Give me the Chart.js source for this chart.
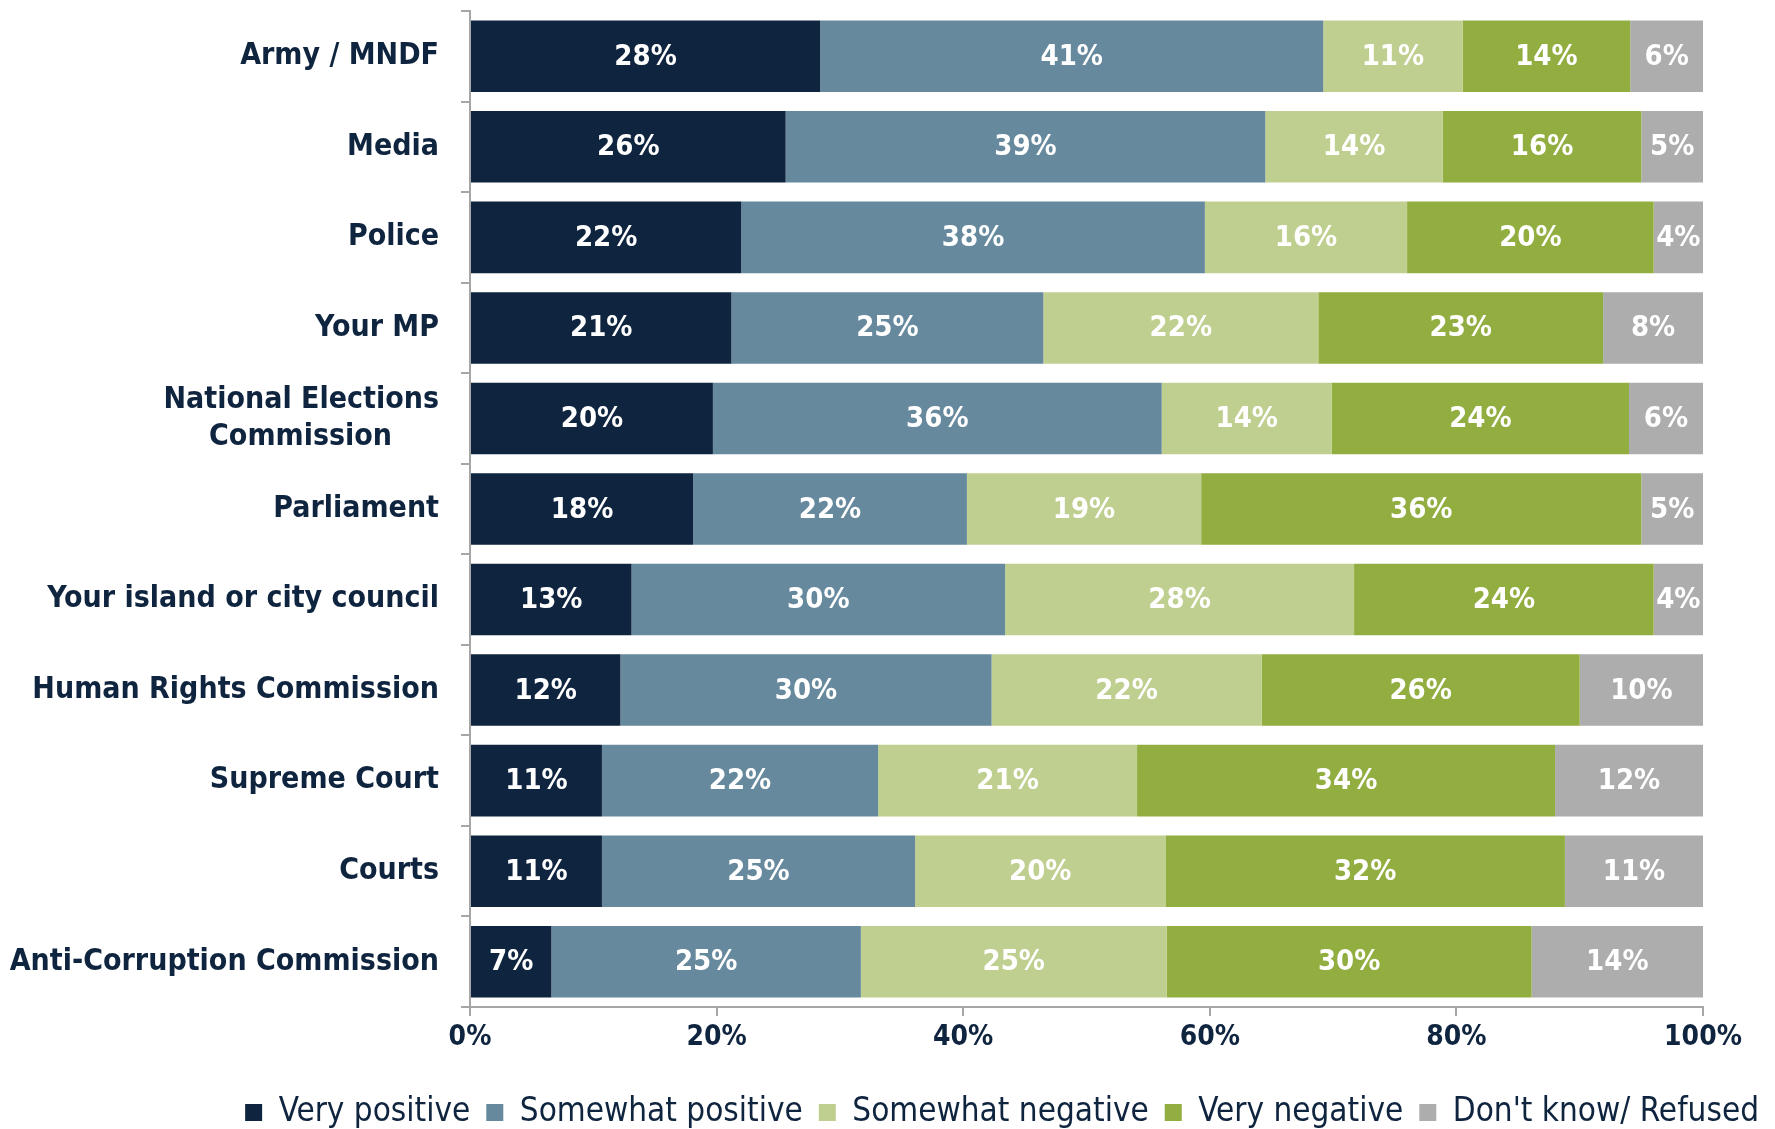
<!DOCTYPE html>
<html>
<head>
<meta charset="utf-8">
<script src="https://cdn.jsdelivr.net/npm/chart.js@4/dist/chart.umd.min.js"></script>
<style>
  body { margin: 0; background: #ffffff; }
  #wrap { width: 1775px; height: 1129px; position: relative; }
</style>
</head>
<body>
<div id="wrap"><canvas id="chart1"></canvas></div>
<script>
// categories (top to bottom)
var categories = [
  "Army / MNDF",
  "Media",
  "Police",
  "Your MP",
  ["National Elections", "Commission\u00a0\u00a0\u00a0\u00a0\u00a0"],
  "Parliament",
  "Your island or city council",
  "Human Rights Commission",
  "Supreme Court",
  "Courts",
  "Anti-Corruption Commission"
];

// series values (percent)
var veryPositive     = [28.4, 25.6, 22.0, 21.2, 19.7, 18.1, 13.1, 12.2, 10.7, 10.7, 6.6];
var somewhatPositive = [40.8, 38.9, 37.6, 25.3, 36.4, 22.2, 30.3, 30.1, 22.4, 25.4, 25.1];
var somewhatNegative = [11.3, 14.4, 16.4, 22.3, 13.8, 19.0, 28.3, 21.9, 21.0, 20.3, 24.8];
var veryNegative     = [13.6, 16.1, 20.0, 23.1, 24.1, 35.7, 24.3, 25.8, 33.9, 32.4, 29.6];
var dontKnow         = [5.9, 5.0, 4.0, 8.1, 6.0, 5.0, 4.0, 10.0, 12.0, 11.2, 13.9];

// x axis ticks
var xTicks = [0, 20, 40, 60, 80, 100];

var navy = "#0f243e";
var axisGrey = "#a6a6a6";
var fontFam = '"DejaVu Sans Condensed", "DejaVu Sans", sans-serif';

Chart.defaults.font.family = fontFam;
Chart.defaults.color = navy;

// draw the % labels in the middle of every segment
var labelPlugin = {
  id: "segLabels",
  afterDatasetsDraw: function(chart) {
    var ctx = chart.ctx;
    ctx.save();
    ctx.fillStyle = "#ffffff";
    ctx.font = "bold 29px " + fontFam;
    ctx.textAlign = "center";
    ctx.textBaseline = "middle";
    chart.data.datasets.forEach(function(ds, i) {
      var meta = chart.getDatasetMeta(i);
      meta.data.forEach(function(bar, j) {
        var v = ds.data[j];
        var cx = (bar.x + bar.base) / 2;
        ctx.fillText(Math.round(v) + "%", cx, bar.y + 1);
      });
    });
    ctx.restore();
  }
};

var canvas1 = document.getElementById("chart1");

const myChart = new Chart(canvas1, {
  type: "bar",
  data: {
    labels: categories,
    datasets: [
      { label: "Very positive", data: veryPositive, backgroundColor: "#0f243e" },
      { label: "Somewhat positive", data: somewhatPositive, backgroundColor: "#66899d" },
      { label: "Somewhat negative", data: somewhatNegative, backgroundColor: "#bfcf8f" },
      { label: "Very negative", data: veryNegative, backgroundColor: "#92ae40" },
      { label: "Don't know/ Refused", data: dontKnow, backgroundColor: "#adadae" }
    ]
  },
  options: {
    indexAxis: "y",
    responsive: true,
    maintainAspectRatio: false,
    animation: false,
    barPercentage: 0.79,
    categoryPercentage: 1.0,
    layout: { padding: { left: 0, right: 0, top: 11, bottom: -10 } },
    plugins: {
      tooltip: { enabled: false },
      legend: {
        position: "bottom",
        align: "end",
        labels: {
          color: navy,
          font: { size: 33 },
          boxWidth: 17,
          boxHeight: 17,
          padding: 16
        }
      }
    },
    scales: {
      x: {
        stacked: true,
        min: 0,
        max: 100,
        afterBuildTicks: function(scale) {
          scale.ticks = xTicks.map(function(v) { return { value: v }; });
        },
        afterFit: function(scale) { scale.height = 73; },
        border: { color: axisGrey, width: 2 },
        grid: { display: true, drawOnChartArea: false, drawTicks: true, tickLength: 9, color: axisGrey, lineWidth: 2 },
        ticks: {
          padding: 5,
          color: navy,
          font: { size: 28, weight: "bold" },
          callback: function(v) { return v + "%"; }
        }
      },
      y: {
        stacked: true,
        afterFit: function(scale) {
          scale.width = 470;
          scale.paddingTop = 0;
          scale.paddingBottom = 0;
        },
        border: { color: axisGrey, width: 2 },
        grid: { display: true, drawOnChartArea: false, drawTicks: true, tickLength: 9, color: axisGrey, lineWidth: 2, offset: true },
        ticks: {
          padding: 22,
          color: navy,
          font: { size: 30, weight: "bold", lineHeight: 1.23 }
        }
      },
      // empty right-hand box, keeps the plot off the right edge
      yRight: {
        type: "linear",
        position: "right",
        display: true,
        afterFit: function(scale) { scale.width = 72; },
        border: { display: false },
        grid: { display: false },
        ticks: { display: false }
      }
    }
  },
  plugins: [labelPlugin]
});
</script>
</body>
</html>
